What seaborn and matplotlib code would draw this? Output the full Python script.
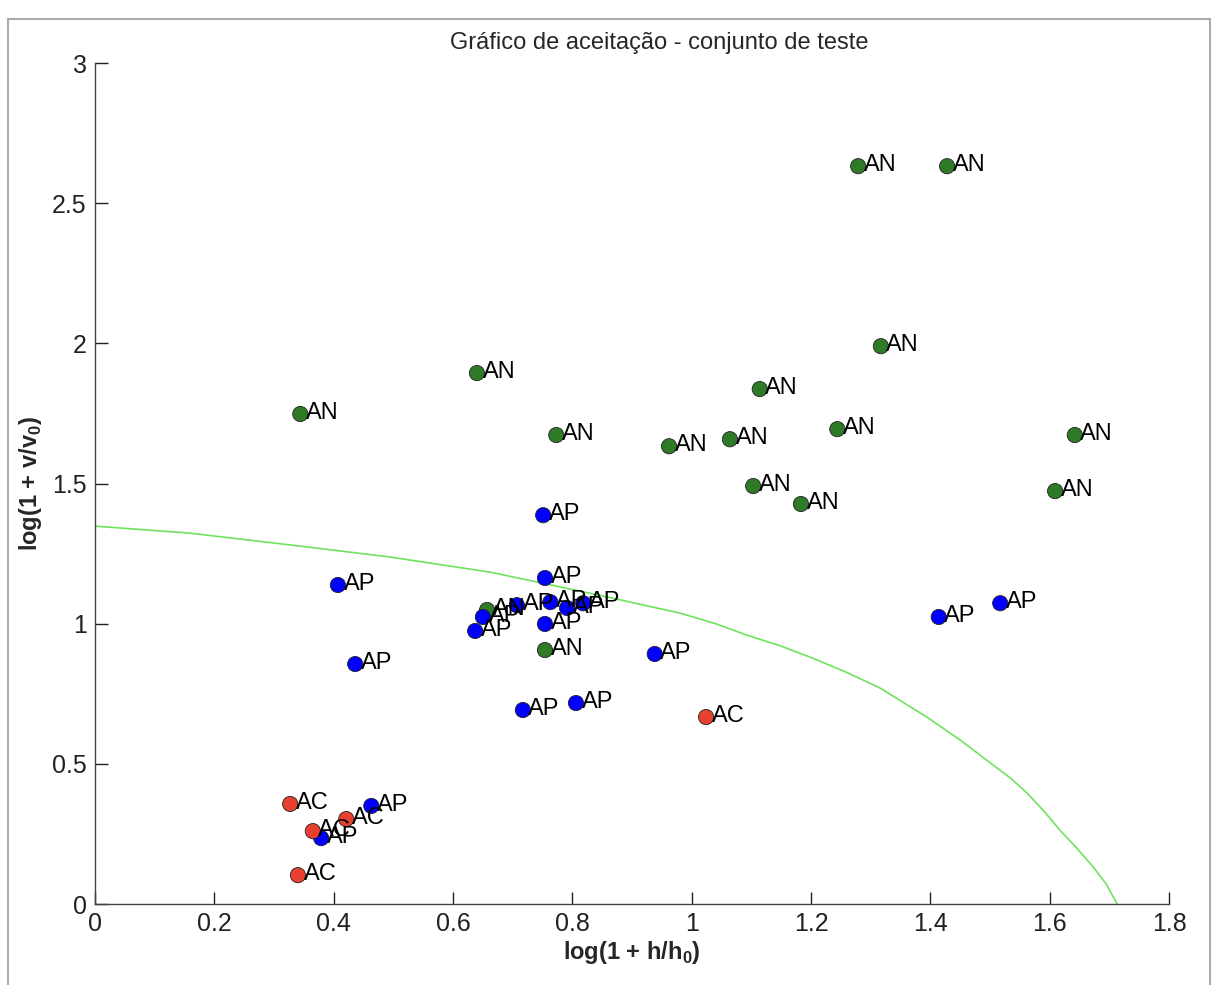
import seaborn as sns
import matplotlib.pyplot as plt
import pandas as pd
from matplotlib.lines import Line2D

sns.set_style("ticks")
plt.rcParams["font.family"] = ["Liberation Sans", "DejaVu Sans"]
plt.rcParams["mathtext.fontset"] = "custom"
plt.rcParams["mathtext.bf"] = "Liberation Sans:bold"
plt.rcParams["mathtext.rm"] = "Liberation Sans"

# acceptance test set: log(1 + h/h0) vs log(1 + v/v0)
an_x = [1.279, 1.428, 1.317, 1.114, 0.640, 0.344, 0.773, 0.962, 1.064, 1.244,
        1.642, 1.103, 1.183, 1.609, 0.754, 0.657]
an_y = [2.632, 2.632, 1.990, 1.837, 1.894, 1.748, 1.673, 1.633, 1.658, 1.694,
        1.673, 1.491, 1.427, 1.473, 0.906, 1.049]

ap_x = [0.751, 0.754, 0.407, 0.436, 0.650, 0.637, 0.707, 0.763, 0.791, 0.818,
        0.754, 0.938, 0.717, 0.806, 1.414, 1.517, 0.463, 0.379]
ap_y = [1.387, 1.163, 1.138, 0.856, 1.024, 0.974, 1.066, 1.077, 1.056, 1.073,
        0.999, 0.892, 0.692, 0.717, 1.024, 1.073, 0.350, 0.235]

ac_x = [0.327, 0.365, 0.421, 0.340, 1.024]
ac_y = [0.357, 0.260, 0.303, 0.103, 0.667]

# acceptance boundary
curve_x = [0.0, 0.159, 0.327, 0.494, 0.662, 0.760, 0.868, 0.920, 0.980, 1.040,
           1.093, 1.150, 1.203, 1.260, 1.316, 1.394, 1.450, 1.505, 1.535, 1.562,
           1.590, 1.617, 1.645, 1.673, 1.695, 1.713]
curve_y = [1.348, 1.323, 1.281, 1.238, 1.184, 1.140, 1.091, 1.066, 1.038, 1.000,
           0.959, 0.920, 0.877, 0.826, 0.770, 0.667, 0.585, 0.496, 0.448, 0.396,
           0.332, 0.264, 0.200, 0.132, 0.070, 0.0]

df = pd.DataFrame({
    "x": an_x + ap_x + ac_x,
    "y": an_y + ap_y + ac_y,
    "cls": ["AN"] * len(an_x) + ["AP"] * len(ap_x) + ["AC"] * len(ac_x),
})
curve = pd.DataFrame({"x": curve_x, "y": curve_y})

palette = {"AN": "#2e7a27", "AP": "#0000ff", "AC": "#e8402e"}

fig = plt.figure(figsize=(12.14, 9.85), dpi=100)
ax = fig.add_axes([0.0783, 0.0822, 0.8847, 0.8538])

sns.lineplot(data=curve, x="x", y="y", sort=False, color="#6ee35c",
             linewidth=1.2, ax=ax, zorder=1)
sns.scatterplot(data=df, x="x", y="y", hue="cls", palette=palette, s=120,
                edgecolor="#222222", linewidth=0.6, legend=False, ax=ax, zorder=3)

for _, r in df.iterrows():
    ax.annotate(r["cls"], (r["x"], r["y"]), xytext=(4, 1), textcoords="offset points",
                ha="left", va="center", fontsize=17, color="black", zorder=4)

ax.set_xlim(0, 1.8)
ax.set_ylim(0, 3)
ax.set_xticks([0, 0.2, 0.4, 0.6, 0.8, 1, 1.2, 1.4, 1.6, 1.8])
ax.set_xticklabels(["0", "0.2", "0.4", "0.6", "0.8", "1", "1.2", "1.4", "1.6", "1.8"])
ax.set_yticks([0, 0.5, 1, 1.5, 2, 2.5, 3])
ax.set_yticklabels(["0", "0.5", "1", "1.5", "2", "2.5", "3"])
ax.tick_params(direction="in", length=9, width=1, labelsize=18, colors="#222222",
               pad=6)
sns.despine(ax=ax)
for s in ("left", "bottom"):
    ax.spines[s].set_color("#444444")
    ax.spines[s].set_linewidth(1.0)

ax.set_title("Gráfico de aceitação - conjunto de teste", fontsize=17, x=0.525, pad=10)
ax.set_xlabel(r"log(1 + h/h$_\mathbf{0}$)", fontsize=17, fontweight="bold", labelpad=2)
ax.set_ylabel(r"log(1 + v/v$_\mathbf{0}$)", fontsize=17, fontweight="bold", labelpad=6)

# grey page frame around the figure
for xs, ys in [([0.007, 0.007], [0.0, 0.981]), ([0.007, 0.997], [0.981, 0.981]),
               ([0.997, 0.997], [0.0, 0.981])]:
    fig.add_artist(Line2D(xs, ys, color="#aaaaaa", linewidth=1.5,
                          transform=fig.transFigure))

fig.savefig("out.png", dpi=100)
plt.close(fig)
